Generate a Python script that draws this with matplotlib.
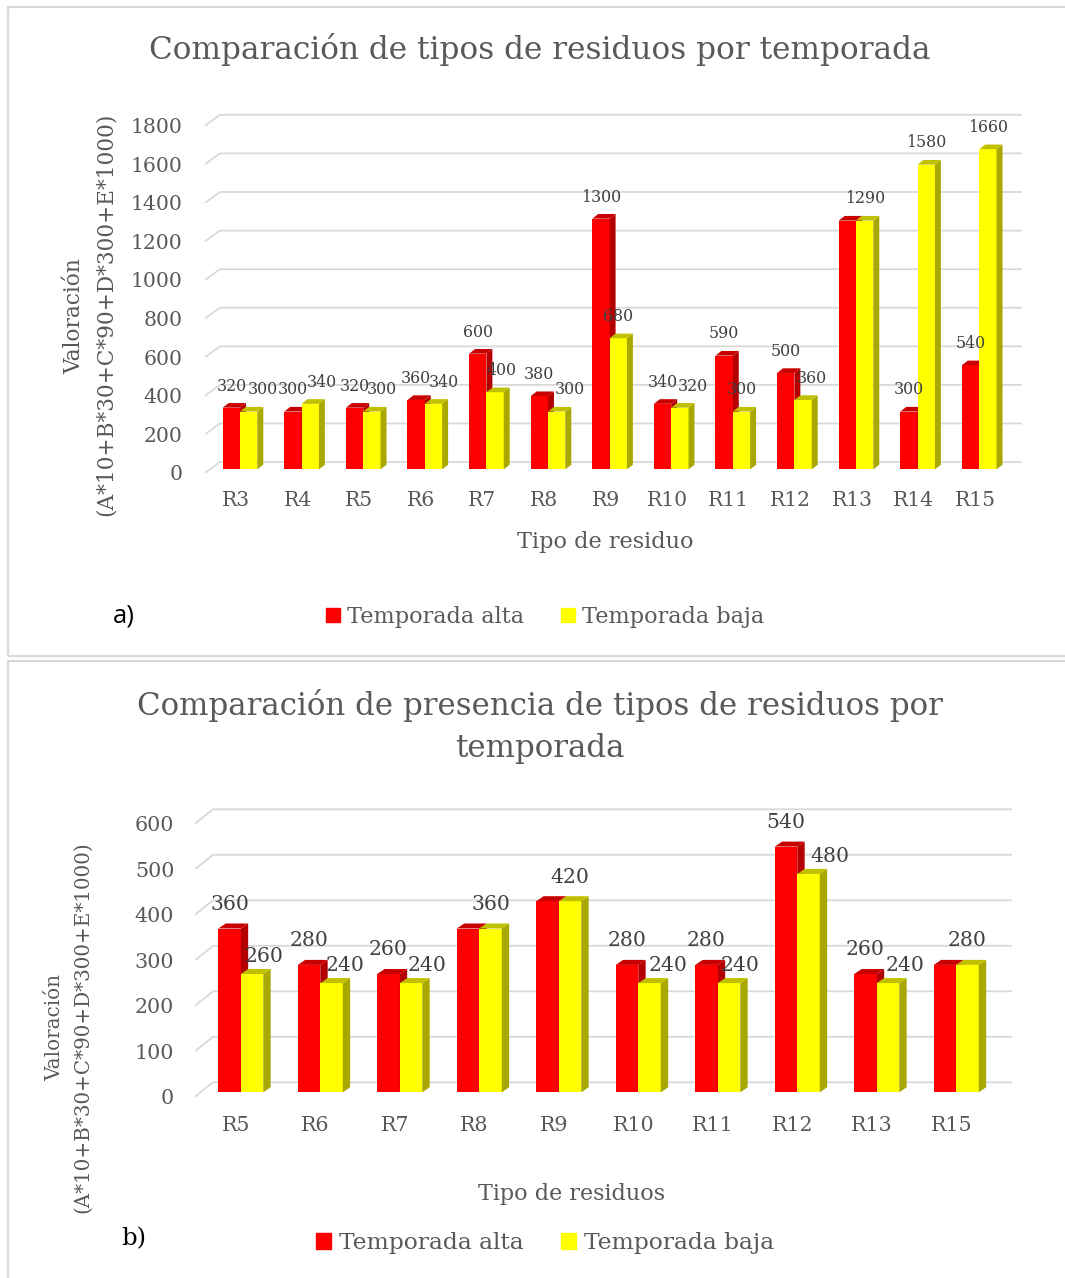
import matplotlib
matplotlib.use('Agg')
import matplotlib.pyplot as plt
from matplotlib.patches import Polygon, Rectangle, Patch
from matplotlib.font_manager import FontProperties

# ---------------- data ----------------
cats_a = ['R3', 'R4', 'R5', 'R6', 'R7', 'R8', 'R9', 'R10', 'R11', 'R12', 'R13', 'R14', 'R15']
alta_a = [320, 300, 320, 360, 600, 380, 1300, 340, 590, 500, 1290, 300, 540]
baja_a = [300, 340, 300, 340, 400, 300, 680, 320, 300, 360, 1290, 1580, 1660]
yticks_a = [0, 200, 400, 600, 800, 1000, 1200, 1400, 1600, 1800]

cats_b = ['R5', 'R6', 'R7', 'R8', 'R9', 'R10', 'R11', 'R12', 'R13', 'R15']
alta_b = [360, 280, 260, 360, 420, 280, 280, 540, 260, 280]
baja_b = [260, 240, 240, 360, 420, 240, 240, 480, 240, 280]
yticks_b = [0, 100, 200, 300, 400, 500, 600]

title_a = 'Comparación de tipos de residuos por temporada'
title_b1 = 'Comparación de presencia de tipos de residuos por'
title_b2 = 'temporada'
ylab1 = 'Valoración'
ylab2 = '(A*10+B*30+C*90+D*300+E*1000)'
xlab_a = 'Tipo de residuo'
xlab_b = 'Tipo de residuos'
series = ['Temporada alta', 'Temporada baja']

# label x-shifts (px) of the yellow series labels (layout only)
lab_dx_a = [14, 12, 10, 10, 7, 13, 0, 13, 0, 9, 0, 0, 0]
lab_dx_b = [12, 14, 16, 0, 0, 19, 11, 21, 17, 0]

# ---------------- style ----------------
W, H, DPI = 1065, 1278, 100
SERIF = 'DejaVu Serif'
GREY = '#595959'
LBL = '#404040'
GRID = '#d9d9d9'
RED, RED_SIDE, RED_TOP = '#FF0000', '#B40000', '#C80000'
YEL, YEL_SIDE, YEL_TOP = '#FFFF00', '#A8A800', '#C0C000'

fig = plt.figure(figsize=(W / DPI, H / DPI), dpi=DPI)
fig.patch.set_facecolor('white')
renderer = fig.canvas.get_renderer()


def fit(text, width_px, family=SERIF):
    fp = FontProperties(family=family, size=10)
    w, h, d = renderer.get_text_width_height_descent(text, fp, ismath=False)
    return 10.0 * width_px / w


def ftext(xpx, ypx, s, size, family=SERIF, color=GREY, rot=0):
    fig.text(xpx / W, 1 - ypx / H, s, ha='center', va='center', fontsize=size,
             family=family, color=color, rotation=rot)


def panel(cats, alta, baja, yticks, g, lab_dx):
    L, R, T, B = g['L'], g['R'], g['T'], g['B']
    x0, step, base, sc = g['x0'], g['step'], g['base'], g['scale']
    ax = fig.add_axes([L / W, 1 - B / H, (R - L) / W, (B - T) / H])
    ax.set_facecolor('none')
    xl, xr = (L - x0) / step, (R - x0) / step
    ax.set_xlim(xl, xr)
    ax.set_ylim((base - B) / sc, (base - T) / sc)
    for s in ax.spines.values():
        s.set_visible(False)
    xw = (g['wall_x'] - x0) / step
    for v in yticks:
        ax.plot([xl, xw, xr], [v + g['front'], v + g['wall'], v + g['wall']],
                color=GRID, lw=1.3, zorder=1, solid_capstyle='butt')
    bl, bw, dx, dy = g['bl'], g['bw'], g['dx'], g['dy']
    n = len(cats)
    xs = list(range(n))
    specs = [(alta, RED, RED_SIDE, RED_TOP, 3), (baja, YEL, YEL_SIDE, YEL_TOP, 4)]
    for k, (vals, face, side, top, z) in enumerate(specs):
        lefts = [i + bl + k * bw for i in xs]
        ax.bar(lefts, vals, width=bw, align='edge', color=face, zorder=z, lw=0)
        for x1, v in zip(lefts, vals):
            x2 = x1 + bw
            ax.add_patch(Polygon([(x2, 0), (x2 + dx, dy), (x2 + dx, v + dy), (x2, v)],
                                 closed=True, fc=side, ec='none', zorder=z))
            ax.add_patch(Polygon([(x1, v), (x1 + dx, v + dy), (x2 + dx, v + dy), (x2, v)],
                                 closed=True, fc=top, ec='none', zorder=z))
    bwpx = bw * step
    for i in xs:
        a, b = alta[i], baja[i]
        cr = i + bl + bw / 2
        cy = i + bl + 1.5 * bw
        if a == b:
            ax.annotate(str(a), xy=(cr, a + dy), xytext=(bwpx * 0.72, g['oy_r'] * 0.72),
                        textcoords='offset points', ha='center', va='center',
                        fontsize=g['fs_lab'], family=SERIF, color=LBL, zorder=6)
            continue
        ax.annotate(str(a), xy=(cr, a + dy), xytext=(0, g['oy_r'] * 0.72),
                    textcoords='offset points', ha='center', va='center',
                    fontsize=g['fs_lab'], family=SERIF, color=LBL, zorder=6)
        ax.annotate(str(b), xy=(cy, b + dy), xytext=(lab_dx[i] * 0.72, g['oy_y'] * 0.72),
                    textcoords='offset points', ha='center', va='center',
                    fontsize=g['fs_lab'], family=SERIF, color=LBL, zorder=6)
    ax.set_xticks(xs)
    ax.set_xticklabels(cats, family=SERIF)
    ax.set_yticks([v + g['front'] for v in yticks])
    ax.set_yticklabels([str(v) for v in yticks], family=SERIF)
    ax.tick_params(axis='both', length=0, colors=GREY, labelsize=g['fs_tick'])
    ax.tick_params(axis='x', pad=g['padx'])
    ax.tick_params(axis='y', pad=g['pady'])
    return ax


# ---------------- frames ----------------
fig.add_artist(Rectangle((8 / W, 1 - 656 / H), (1200 - 8) / W, (656 - 7) / H,
                         transform=fig.transFigure, fill=False, ec=GRID, lw=1.6))
fig.add_artist(Rectangle((8 / W, 1 - 1400 / H), (1200 - 8) / W, (1400 - 660.5) / H,
                         transform=fig.transFigure, fill=False, ec=GRID, lw=1.6))

# ---------------- panel a ----------------
ga = dict(L=205, R=1022, T=100, B=480, x0=236, step=61.6, base=469.4, scale=0.1929,
          front=-18, wall=38, wall_x=220, bl=-0.216, bw=0.281, dx=0.097, dy=24,
          fs_lab=fit('320', 30), fs_tick=fit('1800', 51.6), oy_r=17, oy_y=17,
          padx=8, pady=16)
panel(cats_a, alta_a, baja_a, yticks_a, ga, lab_dx_a)

ftext(540, 50, title_a, fit(title_a, 785))
fs_yl_a = fit(ylab2, 400)
ftext(74, 316, ylab1, fs_yl_a, rot=90)
ftext(106, 314, ylab2, fs_yl_a, rot=90)
ftext(605, 542, xlab_a, fit(xlab_a, 177))
ftext(124, 616, 'a)', fit('a)', 22, 'Open Sans'), family='Open Sans', color='black')

fs_leg_a = fit(series[0], 178)
pxa = fs_leg_a * DPI / 72
fig.legend(handles=[Patch(color=RED, label=series[0]), Patch(color=YEL, label=series[1])],
           loc='center', bbox_to_anchor=(545 / W, 1 - 617 / H), ncol=2, frameon=False,
           prop=FontProperties(family=SERIF, size=fs_leg_a), labelcolor=GREY,
           handlelength=14 / pxa, handleheight=14 / pxa, handletextpad=7 / pxa,
           columnspacing=37 / pxa, borderpad=0, borderaxespad=0)

# ---------------- panel b ----------------
gb = dict(L=195, R=1012, T=790, B=1105, x0=236, step=79.5, base=1092.3, scale=0.455,
          front=-9.7, wall=22, wall_x=213, bl=-0.223, bw=0.283, dx=0.093, dy=11,
          fs_lab=fit('360', 38.6), fs_tick=fit('600', 39), oy_r=19, oy_y=12.5,
          padx=8, pady=15)
panel(cats_b, alta_b, baja_b, yticks_b, gb, lab_dx_b)

fs_tb = fit(title_b1, 811)
ftext(540, 705, title_b1, fs_tb)
ftext(540, 748, title_b2, fs_tb)
fs_yl_b = fit(ylab2, 369)
ftext(55, 1028, ylab1, fs_yl_b, rot=90)
ftext(83, 1027, ylab2, fs_yl_b, rot=90)
ftext(572, 1194, xlab_b, fit(xlab_b, 188))
ftext(134, 1239, 'b)', fit('b)', 25), color='black')

fs_leg_b = fit(series[0], 186)
pxb = fs_leg_b * DPI / 72
fig.legend(handles=[Patch(color=RED, label=series[0]), Patch(color=YEL, label=series[1])],
           loc='center', bbox_to_anchor=(545 / W, 1 - 1243 / H), ncol=2, frameon=False,
           prop=FontProperties(family=SERIF, size=fs_leg_b), labelcolor=GREY,
           handlelength=15 / pxb, handleheight=15 / pxb, handletextpad=8 / pxb,
           columnspacing=38 / pxb, borderpad=0, borderaxespad=0)

fig.savefig('out.png', dpi=DPI)
